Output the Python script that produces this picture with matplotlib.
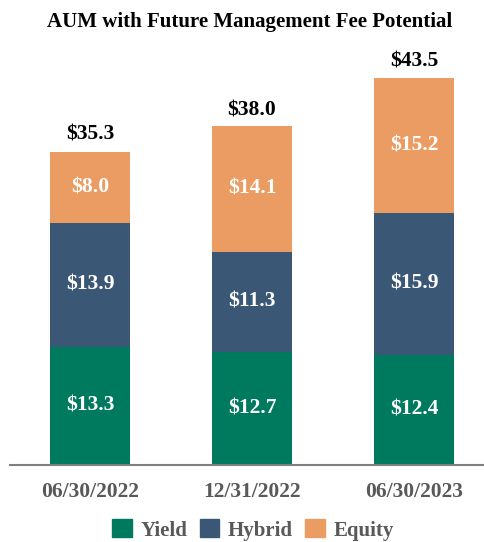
import matplotlib.pyplot as plt
import numpy as np

categories = ['06/30/2022', '12/31/2022', '06/30/2023']
yield_vals = [13.3, 12.7, 12.4]
hybrid_vals = [13.9, 11.3, 15.9]
equity_vals = [8.0, 14.1, 15.2]
totals = [35.3, 38.0, 43.5]

colors = {'Yield': '#007A5E', 'Hybrid': '#3A5876', 'Equity': '#EB9C62'}

plt.rcParams['font.family'] = ['Liberation Serif', 'DejaVu Serif']

fig = plt.figure(figsize=(4.84, 5.42), dpi=100)
ax = fig.add_axes([10 / 484, 77 / 542, 474 / 484, 427 / 542])

x = np.arange(len(categories))
w = 0.494
series = [('Yield', yield_vals), ('Hybrid', hybrid_vals), ('Equity', equity_vals)]
bottom = np.zeros(len(categories))
for name, vals in series:
    ax.bar(x, vals, w, bottom=bottom, color=colors[name], label=name)
    for xi, b, v in zip(x, bottom, vals):
        ax.text(xi, b + v / 2, f'${v:.1f}', ha='center', va='center',
                color='white', fontsize=15.5, fontweight='bold')
    bottom += np.array(vals)

for xi, t in zip(x, totals):
    ax.text(xi, t + 0.7, f'${t:.1f}', ha='center', va='bottom',
            color='black', fontsize=15.5, fontweight='bold')

ax.set_xlim(-0.494, 2.432)
ax.set_ylim(0, 48)
ax.set_xticks(x)
ax.set_xticklabels(categories, fontsize=15.5, fontweight='bold', color='#595959')
ax.tick_params(axis='x', length=0, pad=12)
ax.set_yticks([])
for s in ['top', 'right', 'left']:
    ax.spines[s].set_visible(False)
ax.spines['bottom'].set_color('#808080')
ax.spines['bottom'].set_linewidth(1.5)

fig.text(250 / 484, 1 - 22 / 542, 'AUM with Future Management Fee Potential',
         ha='center', va='center', fontsize=15, fontweight='bold')

handles = [plt.Rectangle((0, 0), 1, 1, color=colors[n]) for n, _ in series]
fig.legend(handles, [n for n, _ in series], loc='center', bbox_to_anchor=(253 / 484, 1 - 530 / 542),
           ncol=3, frameon=False, handlelength=0.95, handleheight=0.95, handletextpad=0.4,
           columnspacing=0.6, prop={'size': 15, 'weight': 'bold'}, labelcolor='#595959')

fig.savefig('out.png', dpi=100)
